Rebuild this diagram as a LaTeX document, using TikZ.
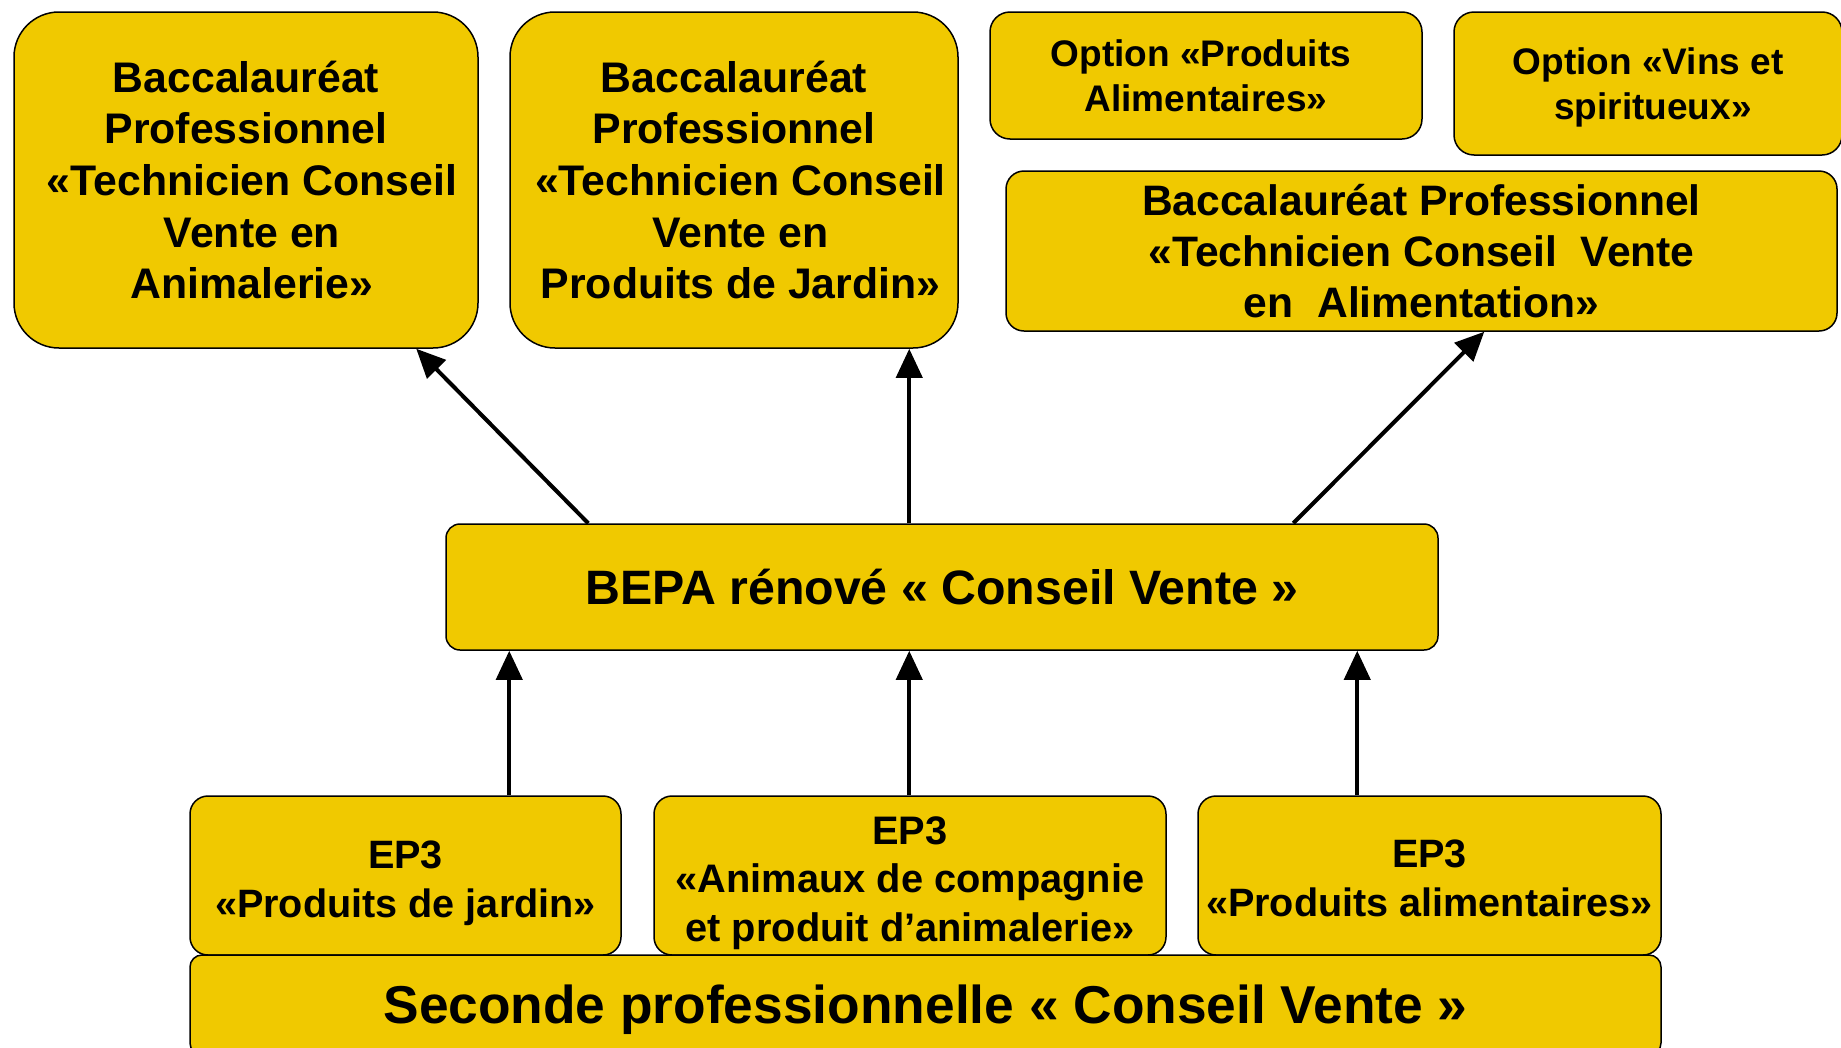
\documentclass[tikz,border=0pt]{standalone}
\usepackage{fontspec}
\setmainfont{Liberation Sans}
\usetikzlibrary{arrows.meta}
\definecolor{boxyellow}{RGB}{240,201,0}
\begin{document}
\begin{tikzpicture}[x=1pt,y=-1pt,
  box/.style={draw=black,line width=1.5pt,fill=boxyellow,inner sep=0pt,align=center},
  arr/.style={line width=4pt,-{Triangle[length=29pt,width=26pt]}}]
\useasboundingbox (0,0) rectangle (1841,1047);
% top row
\node[box,rounded corners=45pt,minimum width=464pt,minimum height=336pt,
  font=\fontsize{42.8}{51.6}\selectfont\bfseries] (bacA) at (246,180)
  {Baccalauréat\\Professionnel\\\hspace*{12pt}«Technicien Conseil\\\hspace*{12pt}Vente en\\\hspace*{12pt}Animalerie»};
\node[box,rounded corners=45pt,minimum width=448pt,minimum height=336pt,
  font=\fontsize{42.8}{51.6}\selectfont\bfseries] (bacB) at (734,180)
  {Baccalauréat\\Professionnel\\\hspace*{13pt}«Technicien Conseil\\\hspace*{13pt}Vente en\\\hspace*{13pt}Produits de Jardin»};
\node[box,rounded corners=20pt,minimum width=432pt,minimum height=127pt,
  font=\fontsize{37}{44.6}\selectfont\bfseries] (optA) at (1206,75.5)
  {Option «Produits\hspace*{10pt}\\Alimentaires»};
\node[box,rounded corners=20pt,minimum width=388pt,minimum height=143pt,
  font=\fontsize{37}{44.6}\selectfont\bfseries,text height=79pt] (optB) at (1648,83.5)
  {Option «Vins et\\\hspace*{10pt}spiritueux»};
\node[box,rounded corners=18pt,minimum width=831pt,minimum height=160pt,
  font=\fontsize{42.6}{51}\selectfont\bfseries] (bacC) at (1421.5,251)
  {Baccalauréat Professionnel\\«Technicien Conseil\ \ Vente\\en\ \ Alimentation»};
% middle
\node[box,rounded corners=14pt,minimum width=992pt,minimum height=126pt,
  font=\fontsize{48.3}{56}\selectfont\bfseries] (bepa) at (942,587)
  {BEPA rénové « Conseil Vente »};
% EP3 row
\node[box,rounded corners=18pt,minimum width=431pt,minimum height=159pt,
  font=\fontsize{39.6}{48.5}\selectfont\bfseries,text height=91.2pt] (ep3a) at (405.5,875.5)
  {EP3\\«Produits de jardin»};
\node[box,rounded corners=18pt,minimum width=512pt,minimum height=159pt,
  font=\fontsize{39.8}{48.5}\selectfont\bfseries,text height=139.9pt] (ep3b) at (910,875.5)
  {EP3\\«Animaux de compagnie\\et produit d’animalerie»};
\node[box,rounded corners=18pt,minimum width=463pt,minimum height=159pt,
  font=\fontsize{39.6}{48.5}\selectfont\bfseries,text height=81.8pt] (ep3c) at (1429.5,875.5)
  {EP3\\«Produits alimentaires»};
% bottom
\node[box,rounded corners=12pt,minimum width=1471pt,minimum height=100pt,
  font=\fontsize{53.3}{62}\selectfont\bfseries,text depth=1.6pt] (sec) at (925.5,1005)
  {Seconde professionnelle « Conseil Vente »};
% arrows
\draw[arr] ([xshift=143pt]bepa.north west) -- ([xshift=403pt]bacA.south west);
\draw[arr] ([xshift=464pt]bepa.north west) -- ([xshift=400pt]bacB.south west);
\draw[arr] ([xshift=848pt]bepa.north west) -- ([xshift=479pt]bacC.south west);
\draw[arr] ([xshift=320pt]ep3a.north west) -- ([xshift=64pt]bepa.south west);
\draw[arr] ([xshift=256pt]ep3b.north west) -- ([xshift=464pt]bepa.south west);
\draw[arr] ([xshift=160pt]ep3c.north west) -- ([xshift=912pt]bepa.south west);
\end{tikzpicture}
\end{document}
